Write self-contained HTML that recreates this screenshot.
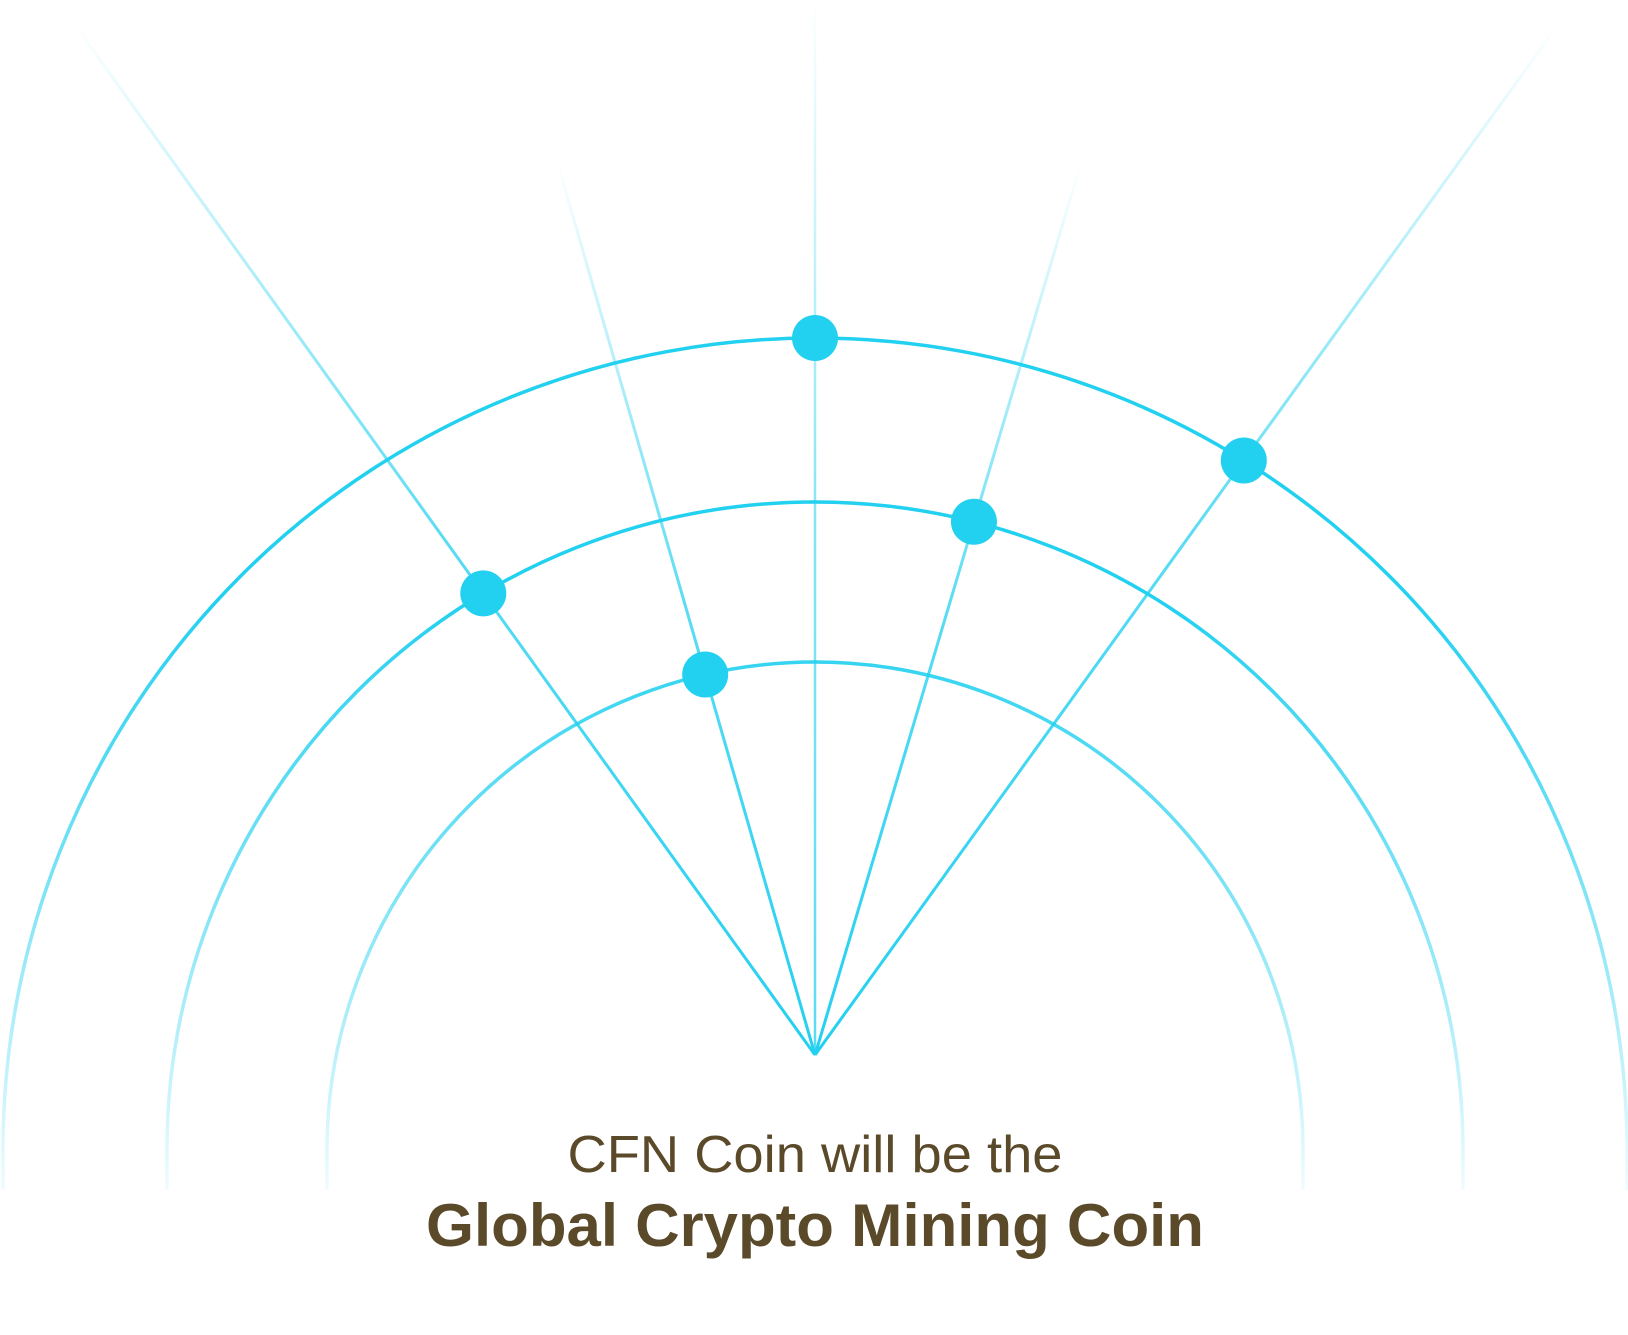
<!DOCTYPE html>
<html><head><meta charset="utf-8"><style>
html,body{margin:0;padding:0;background:#fff;}
svg{display:block;}
</style></head><body>
<svg id="chart" width="1628" height="1335" viewBox="0 0 1628 1335" xmlns="http://www.w3.org/2000/svg">
<defs>
<linearGradient id="arcGrad" gradientUnits="userSpaceOnUse" x1="0" y1="600" x2="0" y2="1230">
<stop offset="0" stop-color="#22d0f0" stop-opacity="1"/>
<stop offset="0.45" stop-color="#22d0f0" stop-opacity="0.6"/>
<stop offset="1" stop-color="#22d0f0" stop-opacity="0"/>
</linearGradient>
</defs>
<g id="rings"></g>
<g id="rays"></g>
<g id="dots"></g>
<text x="815" y="1172" text-anchor="middle" font-family="Liberation Sans, sans-serif" font-size="52" fill="#5b4a2a" textLength="495" lengthAdjust="spacingAndGlyphs">CFN Coin will be the</text>
<text x="815" y="1246" text-anchor="middle" font-family="Liberation Sans, sans-serif" font-size="60" font-weight="bold" fill="#5b4a2a" textLength="778" lengthAdjust="spacingAndGlyphs">Global Crypto Mining Coin</text>
</svg>
<script>
const ringRadii = [812, 648, 488];
const rayAngles = [-35.7, -16.1, 0, 16.6, 35.8];
const dotRay = [0, 1, 2, 3, 4];
const dotRing = [1, 2, 0, 1, 0];

const NS = "http://www.w3.org/2000/svg";
const cx = 815, cy = 1150, apexX = 815, apexY = 1055;
const rings = document.getElementById('rings');
const raysG = document.getElementById('rays');
const dotsG = document.getElementById('dots');
const defs = document.querySelector('defs');

ringRadii.forEach((r, i) => {
  const p = document.createElementNS(NS, 'path');
  p.setAttribute('d', `M ${cx - r} ${cy + 40} L ${cx - r} ${cy} A ${r} ${r} 0 0 1 ${cx + r} ${cy} L ${cx + r} ${cy + 40}`);
  p.setAttribute('fill', 'none');
  p.setAttribute('stroke', 'url(#arcGrad)');
  p.setAttribute('stroke-width', '3.5');
  
  
  rings.appendChild(p);
});

function rayEnd(a) {
  const rad = a * Math.PI / 180;
  const len = Math.abs(a) > 20 ? 1270 : (a === 0 ? 1060 : 930);
  return [apexX + Math.sin(rad) * len, apexY - Math.cos(rad) * len];
}

rayAngles.forEach((a, i) => {
  const [ex, ey] = rayEnd(a);
  const g = document.createElementNS(NS, 'linearGradient');
  g.setAttribute('id', 'rg' + i);
  g.setAttribute('gradientUnits', 'userSpaceOnUse');
  g.setAttribute('x1', apexX); g.setAttribute('y1', apexY);
  g.setAttribute('x2', ex); g.setAttribute('y2', ey);
  const op0 = a === 0 ? 0.75 : 1;
  g.innerHTML = `<stop offset="0" stop-color="#22d0f0" stop-opacity="${op0}"/><stop offset="0.5" stop-color="#22d0f0" stop-opacity="${op0*0.75}"/><stop offset="1" stop-color="#22d0f0" stop-opacity="0"/>`;
  defs.appendChild(g);
  const l = document.createElementNS(NS, 'line');
  l.setAttribute('x1', apexX); l.setAttribute('y1', apexY);
  l.setAttribute('x2', ex); l.setAttribute('y2', ey);
  l.setAttribute('stroke', 'url(#rg' + i + ')');
  l.setAttribute('stroke-width', a === 0 ? '2.5' : '3');
  
  
  raysG.appendChild(l);
});

function intersect(a, r) {
  const rad = a * Math.PI / 180;
  const dx = Math.sin(rad), dy = -Math.cos(rad);
  const ox = apexX - cx, oy = apexY - cy;
  const b = ox * dx + oy * dy;
  const c = ox * ox + oy * oy - r * r;
  const t = -b + Math.sqrt(b * b - c);
  return [apexX + dx * t, apexY + dy * t];
}

dotRay.forEach((ri, i) => {
  const [x, y] = intersect(rayAngles[ri], ringRadii[dotRing[i]]);
  const c = document.createElementNS(NS, 'circle');
  c.setAttribute('cx', x); c.setAttribute('cy', y); c.setAttribute('r', 23);
  c.setAttribute('fill', '#22d0f0');
  
  
  dotsG.appendChild(c);
});
</script>
</body></html>
